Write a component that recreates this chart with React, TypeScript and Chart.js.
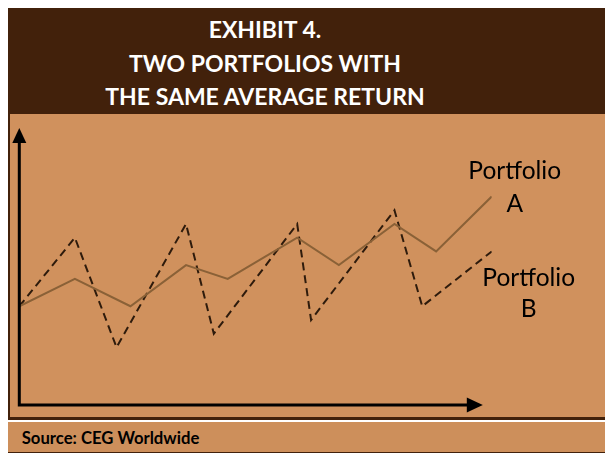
import React, { useEffect, useRef } from "react";
import { Chart, registerables } from "chart.js";

Chart.register(...registerables);

// ---- data ----
const periodsA = [0, 1, 2, 3, 3.75, 5, 5.75, 6.75, 7.5, 8.5];
const returnsA = [3.5, 4.5, 3.5, 5, 4.5, 6, 5, 6.5, 5.5, 7.5];
const periodsB = [0, 1, 1.75, 3, 3.5, 5, 5.25, 6.75, 7.25, 8.5];
const returnsB = [3.5, 6, 2, 6.5, 2.5, 6.5, 3, 7, 3.5, 5.5];
const seriesLabels = ["Portfolio A", "Portfolio B"];
const titleLines = ["EXHIBIT 4.", "TWO PORTFOLIOS WITH", "THE SAME AVERAGE RETURN"];
const sourceText = "Source: CEG Worldwide";

const DARK = "#42210B";
const PANEL = "#D0915D";
const FOOTER = "#CD8F5B";
const LINE_A = "#8A6137";
const LINE_B = "#2E1B0C";
const FONT = "Lato, 'Open Sans', sans-serif";

const arrowAxes = {
  id: "arrowAxes",
  afterDatasetsDraw(chart: any, _args: any, opts: any) {
    const { ctx, chartArea, scales } = chart;
    const x0 = chartArea.left;
    const y0 = chartArea.bottom;
    const xEnd = scales.x.getPixelForValue(opts.xEnd);
    const yEnd = chartArea.top;
    ctx.save();
    ctx.strokeStyle = "#000";
    ctx.fillStyle = "#000";
    ctx.lineWidth = 3;
    ctx.lineCap = "butt";
    ctx.beginPath();
    ctx.moveTo(x0, y0 + 1);
    ctx.lineTo(x0, yEnd + 12);
    ctx.moveTo(x0 - 1.5, y0);
    ctx.lineTo(xEnd - 12, y0);
    ctx.stroke();
    // y arrow head
    ctx.beginPath();
    ctx.moveTo(x0, yEnd);
    ctx.lineTo(x0 - 7, yEnd + 15);
    ctx.lineTo(x0 + 7, yEnd + 15);
    ctx.closePath();
    ctx.fill();
    // x arrow head
    ctx.beginPath();
    ctx.moveTo(xEnd, y0);
    ctx.lineTo(xEnd - 16, y0 - 7.5);
    ctx.lineTo(xEnd - 16, y0 + 7.5);
    ctx.closePath();
    ctx.fill();
    ctx.restore();
  },
};

const endLabels = {
  id: "endLabels",
  afterDatasetsDraw(chart: any, _args: any, opts: any) {
    const { ctx } = chart;
    ctx.save();
    ctx.fillStyle = "#000";
    ctx.font = `24.5px ${FONT}`;
    ctx.textAlign = "center";
    ctx.textBaseline = "alphabetic";
    chart.data.datasets.forEach((ds: any, i: number) => {
      const meta = chart.getDatasetMeta(i);
      const pt = meta.data[meta.data.length - 1];
      const o = opts.offsets[i];
      const label: string = ds.label;
      const k = label.lastIndexOf(" ");
      ctx.fillText(label.slice(0, k), pt.x + o.dx, pt.y + o.dy1);
      ctx.fillText(label.slice(k + 1), pt.x + o.dx, pt.y + o.dy2);
    });
    ctx.restore();
  },
};

export default function App() {
  const ref = useRef<HTMLCanvasElement>(null);

  useEffect(() => {
    if (!ref.current) return;
    const chart = new Chart(ref.current, {
      type: "line",
      data: {
        datasets: [
          {
            label: seriesLabels[0],
            data: periodsA.map((x, i) => ({ x, y: returnsA[i] })),
            borderColor: LINE_A,
            borderWidth: 2,
            pointRadius: 0,
            tension: 0,
          },
          {
            label: seriesLabels[1],
            data: periodsB.map((x, i) => ({ x, y: returnsB[i] })),
            borderColor: LINE_B,
            borderWidth: 2,
            borderDash: [8, 5],
            pointRadius: 0,
            tension: 0,
          },
        ],
      },
      options: {
        animation: false,
        responsive: false,
        layout: { padding: { left: 11.3, top: 14, right: 121.3, bottom: 11 } },
        scales: {
          x: { type: "linear", min: 0, max: 8.5, display: false },
          y: { type: "linear", min: -0.1, max: 10, display: false },
        },
        plugins: {
          legend: { display: false },
          tooltip: { enabled: false },
          arrowAxes: { xEnd: 8.34 },
          endLabels: {
            offsets: [
              { dx: 23, dy1: -18, dy2: 15 },
              { dx: 37, dy1: 35, dy2: 66 },
            ],
          },
        } as any,
      },
      plugins: [arrowAxes, endLabels],
    });
    return () => chart.destroy();
  }, []);

  return (
    <div style={{ position: "relative", width: 605, height: 445, fontFamily: FONT }}>
      <div
        style={{
          position: "absolute",
          left: 0,
          top: 0,
          width: 605,
          height: 106,
          background: DARK,
        }}
      >
        {titleLines.map((t, i) => (
          <div
            key={i}
            style={{
              position: "absolute",
              left: 0,
              width: 514,
              top: 5.4 + i * 33.3,
              lineHeight: "33.3px",
              fontSize: 23,
              fontWeight: 700,
              color: "#fff",
              textAlign: "center",
              whiteSpace: "nowrap",
            }}
          >
            {t}
          </div>
        ))}
      </div>
      <div
        style={{
          position: "absolute",
          left: 0,
          top: 106,
          width: 605,
          height: 306,
          boxSizing: "border-box",
          background: PANEL,
          borderLeft: `2px solid ${DARK}`,
          borderBottom: `3px solid ${DARK}`,
        }}
      />
      <canvas
        ref={ref}
        width={605}
        height={302}
        style={{ position: "absolute", left: 0, top: 106, width: 605, height: 302 }}
      />
      <div
        style={{
          position: "absolute",
          left: 0,
          top: 413.5,
          width: 605,
          height: 31.5,
          boxSizing: "border-box",
          background: FOOTER,
          borderBottom: `1.5px solid ${DARK}`,
        }}
      >
        <div
          style={{
            position: "absolute",
            left: 13.7,
            top: 6,
            fontSize: 16.7,
            lineHeight: "20px",
            fontWeight: 700,
            color: "#000",
            whiteSpace: "nowrap",
          }}
        >
          {sourceText}
        </div>
      </div>
    </div>
  );
}
